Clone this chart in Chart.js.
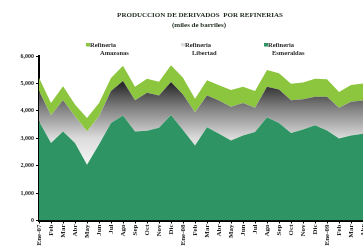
<!DOCTYPE html>
<html>
<head>
<meta charset="utf-8">
<script src="https://cdn.jsdelivr.net/npm/chart.js@4.4.0/dist/chart.umd.min.js"></script>
<style>
  html, body { margin: 0; padding: 0; background: #fff; overflow: hidden; }
  #wrap { width: 380px; height: 248px; }
</style>
</head>
<body>
<div id="wrap"><canvas id="myChart" width="380" height="248"></canvas></div>
<script>
const months = ["Ene-07", "Feb", "Mar", "Abr", "May", "Jun", "Jul", "Ago", "Sep", "Oct", "Nov", "Dic",
  "Ene-08", "Feb", "Mar", "Abr", "May", "Jun", "Jul", "Ago", "Sep", "Oct", "Nov", "Dic",
  "Ene-09", "Feb", "Mar", "Abr"];

// miles de barriles
const esmeraldas = [3620, 2830, 3250, 2830, 2030, 2770, 3560, 3830, 3250, 3270, 3380, 3850,
  3300, 2740, 3400, 3160, 2920, 3100, 3230, 3770, 3560, 3190, 3320, 3470,
  3280, 2990, 3100, 3160];
const libertad = [1100, 1010, 1140, 970, 1220, 1030, 1160, 1260, 1140, 1390, 1180, 1200,
  1300, 1210, 1160, 1220, 1230, 1190, 880, 1110, 1220, 1200, 1100, 1040,
  1230, 1120, 1230, 1220];
const amazonas = [490, 450, 510, 430, 490, 490, 480, 550, 490, 510, 500, 610,
  610, 490, 560, 550, 610, 590, 610, 610, 590, 600, 610, 660,
  640, 580, 610, 620];

const yTicks = [0, 1000, 2000, 3000, 4000, 5000, 6000];

const serif = "'Liberation Serif', 'DejaVu Serif', serif";

// grey gradient for the Libertad band
function libertadFill(context) {
  const chart = context.chart;
  const area = chart.chartArea;
  if (!area) return "#999";
  const y = chart.scales.y;
  const g = chart.ctx.createLinearGradient(0, y.getPixelForValue(5300), 0, y.getPixelForValue(2000));
  g.addColorStop(0, "#0a0a0a");
  g.addColorStop(0.35, "#7d7d7d");
  g.addColorStop(0.7, "#dcdcdc");
  g.addColorStop(1, "#f7f7f7");
  return g;
}

// title + two-line legend drawn above the plot
const header = {
  id: "header",
  afterDraw(chart) {
    const ctx = chart.ctx;
    ctx.save();
    ctx.fillStyle = "#1c2a1c";
    ctx.textAlign = "center";
    ctx.textBaseline = "middle";
    ctx.font = "bold 7px " + serif;
    ctx.fillText("PRODUCCION DE DERIVADOS  POR REFINERIAS", 200, 15);
    ctx.fillText("(miles de barriles)", 199, 25);

    const items = [
      { sq: "#8cc63e", x: 86, l1: "Refineria", l2: "Amazonas", x2: 100 },
      { sq: "#dedede", x: 181, l1: "Refineria", l2: "Libertad", x2: 192 },
      { sq: "#2e9464", x: 264, l1: "Refineria", l2: "Esmeraldas", x2: 272 }
    ];
    ctx.textAlign = "left";
    ctx.font = "bold 6.5px " + serif;
    items.forEach((it) => {
      ctx.fillStyle = it.sq;
      ctx.fillRect(it.x, 43, 4, 3.5);
      ctx.fillStyle = "#2a2a2a";
      ctx.fillText(it.l1, it.x + 4, 45);
      ctx.fillText(it.l2, it.x2, 53);
    });
    ctx.restore();
  }
};

const ctx = document.getElementById("myChart");
new Chart(ctx, {
  type: "line",
  data: {
    labels: months,
    datasets: [
      {
        label: "Refineria Esmeraldas",
        data: esmeraldas,
        backgroundColor: "#2e9464",
        borderWidth: 0,
        pointRadius: 0,
        fill: "origin",
        tension: 0,
      },
      {
        label: "Refineria Libertad",
        data: libertad,
        backgroundColor: libertadFill,
        borderWidth: 0,
        pointRadius: 0,
        fill: "-1",
        tension: 0,
      },
      {
        label: "Refineria Amazonas",
        data: amazonas,
        backgroundColor: "#8cc63e",
        borderWidth: 0,
        pointRadius: 0,
        fill: "-1",
        tension: 0,
      },
    ],
  },
  options: {
    responsive: false,
    animation: false,
    layout: {
      padding: { top: 56, right: 17, left: 0, bottom: 0 },
    },
    plugins: {
      legend: { display: false },
      tooltip: { enabled: false },
    },
    scales: {
      x: {
        offset: false,
        grid: {
          drawOnChartArea: false,
          drawTicks: true,
          tickLength: 3,
          color: "#000",
        },
        border: { display: true, color: "#000", width: 2 },
        ticks: {
          autoSkip: false,
          maxRotation: 90,
          minRotation: 90,
          padding: 1,
          color: "#222",
          font: { family: serif, size: 7, weight: "bold" },
        },
        afterFit(scale) {
          scale.height = 27.5;
        },
      },
      y: {
        stacked: true,
        min: 0,
        max: 6000,
        afterBuildTicks(scale) {
          scale.ticks = yTicks.map((v) => ({ value: v }));
        },
        grid: {
          drawOnChartArea: false,
          drawTicks: true,
          tickLength: 3,
          color: "#000",
        },
        border: { display: true, color: "#000", width: 2 },
        ticks: {
          padding: 2,
          color: "#222",
          font: { family: serif, size: 6, weight: "bold" },
          callback: (v) => v.toLocaleString("en-US"),
        },
        afterFit(scale) {
          scale.width = 39;
        },
      },
    },
  },
  plugins: [header],
});
</script>
</body>
</html>
